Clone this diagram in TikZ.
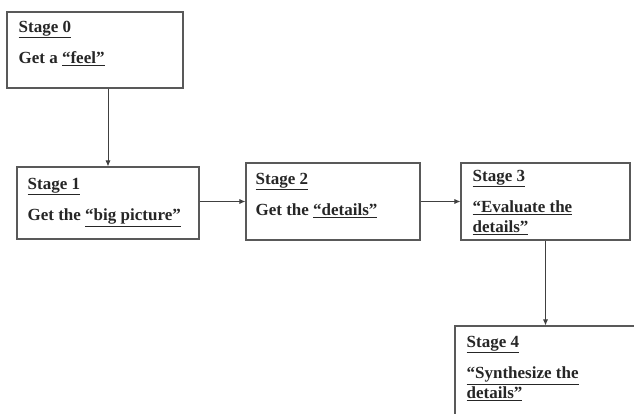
\documentclass[tikz,border=0pt]{standalone}
\usepackage{fontspec}
\setmainfont{Liberation Serif}
\usetikzlibrary{arrows.meta,positioning}

\begin{document}
\begin{tikzpicture}[x=1pt, y=1pt,
  every node/.style={font=\fontsize{17}{19.5}\selectfont\bfseries},
  box/.style={draw=black!65, line width=1.1pt, inner sep=0pt},
  stagetext/.style={anchor=north west, align=left, inner sep=0pt, text=black!85},
  arr/.style={-{Latex[length=6pt,width=5pt]}, line width=0.8pt, draw=black!75},
]
  \useasboundingbox (0,0) rectangle (634,-414);

  % Stage boxes
  \node[box, minimum width=176pt, minimum height=76pt]  (s0) at (95,-50) {};
  \node[box, minimum width=182pt, minimum height=72pt]  (s1) at (108,-203) {};
  \node[box, minimum width=174pt, minimum height=77pt]  (s2) at (333,-201.5) {};
  \node[box, minimum width=169pt, minimum height=77pt]  (s3) at (545.5,-201.5) {};
  \node[box, minimum width=200pt, minimum height=110pt] (s4) at (555,-381) {};

  % Texts inside the boxes
  \node[stagetext] (t0) at ([xshift=12pt, yshift=-7pt]s0.north west)
    {\strut\underline{Stage 0}\\[12pt]Get a \underline{“feel”}};
  \node[stagetext] (t1) at ([xshift=11pt, yshift=-9pt]s1.north west)
    {\strut\underline{Stage 1}\\[12pt]Get the \underline{“big picture”}};
  \node[stagetext] (t2) at ([xshift=10pt, yshift=-8pt]s2.north west)
    {\strut\underline{Stage 2}\\[12pt]Get the \underline{“details”}};
  \node[stagetext] (t3) at ([xshift=12pt, yshift=-5pt]s3.north west)
    {\strut\underline{Stage 3}\\[12pt]\underline{“Evaluate the}\\\underline{details”}};
  \node[stagetext] (t4) at ([xshift=12pt, yshift=-8pt]s4.north west)
    {\strut\underline{Stage 4}\\[12pt]\underline{“Synthesize the}\\\underline{details”}};

  % Arrows between the stages
  \draw[arr] (s0.south -| s1.north) -- (s1.north);
  \draw[arr] (s2.west -| s1.east) -- (s2.west);
  \draw[arr] (s2.east) -- (s3.west);
  \draw[arr] (s3.south) -- (s3.south |- s4.north);
\end{tikzpicture}
\end{document}
